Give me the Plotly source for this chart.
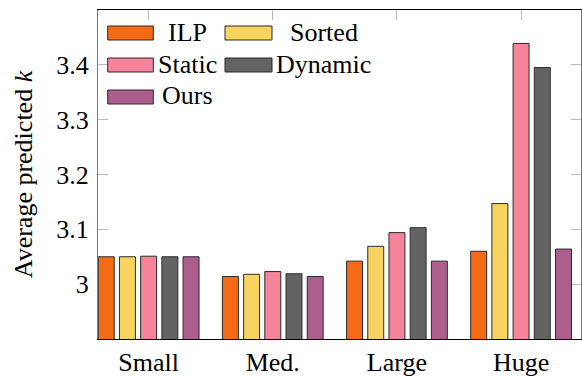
import plotly.graph_objects as go

# Dataset sizes on the x axis
categories = ["Small", "Med.", "Large", "Huge"]

# Average predicted k per method
methods = ["ILP", "Sorted", "Static", "Dynamic", "Ours"]
ilp = [3.050, 3.014, 3.042, 3.060]
sorted_k = [3.050, 3.018, 3.069, 3.147]
static = [3.051, 3.023, 3.094, 3.439]
dynamic = [3.050, 3.019, 3.103, 3.395]
ours = [3.050, 3.014, 3.042, 3.064]
series = [ilp, sorted_k, static, dynamic, ours]

colors = ["#F46A15", "#F6D45F", "#F58399", "#636363", "#AD5E8C"]

y_ticks = [3.0, 3.1, 3.2, 3.3, 3.4]
y_ticktext = ["3", "3.1", "3.2", "3.3", "3.4"]

FONT = "Liberation Serif, DejaVu Serif, serif"
W, H = 582, 377
ML, MR, MT, MB = 98, 0, 10, 32
PW, PH = W - ML - MR, H - MT - MB
fnt = dict(family=FONT, size=26, color="black")

fig = go.Figure()
for name, vals, col in zip(methods, series, colors):
    fig.add_trace(go.Bar(
        x=categories, y=vals, name=name,
        marker=dict(color=col, line=dict(color="#2b2b2b", width=1)),
        showlegend=False,
    ))

x_range = [-0.408, -0.408 + PW / 124.4]

fig.update_layout(
    width=W, height=H,
    margin=dict(l=ML, r=MR, t=MT, b=MB, pad=0),
    paper_bgcolor="white", plot_bgcolor="white",
    font=fnt,
    barmode="group", bargap=0.146, bargroupgap=0.247,
    xaxis=dict(
        type="category", range=x_range,
        showline=True, linecolor="black", linewidth=1, mirror="ticks",
        ticks="inside", ticklen=10, tickcolor="#bbbbbb", tickwidth=1,
        showgrid=False, zeroline=False,
        tickfont=fnt, layer="below traces",
    ),
    yaxis=dict(
        range=[2.9, 3.5], tickvals=y_ticks, ticktext=y_ticktext,
        showline=True, linecolor="#777777", linewidth=1, mirror="ticks",
        ticks="inside", ticklen=10, tickcolor="#bbbbbb", tickwidth=1,
        showgrid=False, zeroline=False, ticklabelstandoff=3,
        tickfont=dict(family=FONT, size=26, color="black"),
        layer="below traces",
        title=dict(text="Average predicted <i>k</i>",
                   font=dict(family=FONT, size=26, color="black"), standoff=16),
    ),
)

# Legend: two columns, swatch followed by centred label
swatch_x = [(9.7, 55.3), (127, 174)]
text_cx = [90, 226]
row_cy = [23, 55, 87]
shapes, annotations = [], []
for i, (name, col) in enumerate(zip(methods, colors)):
    r, c = divmod(i, 2)
    x0, x1 = swatch_x[c]
    cy = row_cy[r]
    shapes.append(dict(
        type="rect", xref="paper", yref="paper",
        xsizemode="pixel", ysizemode="pixel", xanchor=0, yanchor=1,
        x0=x0, x1=x1, y0=-(cy - 7), y1=-(cy + 7),
        fillcolor=col, line=dict(color="#2b2b2b", width=1), layer="above",
    ))
    annotations.append(dict(
        text=name, xref="paper", yref="paper",
        x=text_cx[c] / PW, y=1 - cy / PH,
        xanchor="center", yanchor="middle", showarrow=False,
        font=fnt,
    ))
fig.update_layout(shapes=shapes, annotations=annotations)

fig.write_html("out.html")
